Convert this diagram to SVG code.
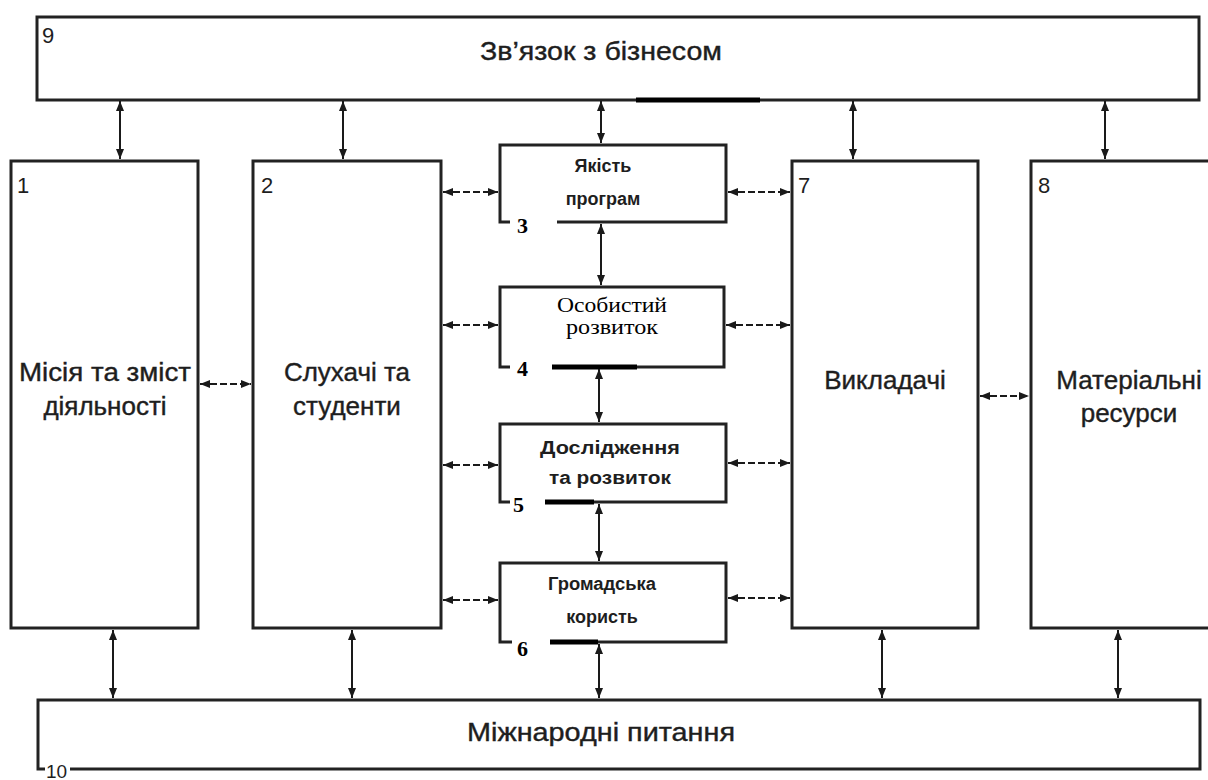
<svg xmlns="http://www.w3.org/2000/svg" width="1208" height="780" viewBox="0 0 1208 780">
<defs>
<marker id="ah" viewBox="0 0 10 8" refX="10" refY="4" markerWidth="10" markerHeight="8" markerUnits="userSpaceOnUse" orient="auto-start-reverse">
<path d="M0,0 L10,4 L0,8 Z" fill="#1a1a1a"/>
</marker>
<style>
.box{fill:#fff;stroke:#222;stroke-width:3}
.edge{fill:none;stroke:#222;stroke-width:3}
.thick{fill:none;stroke:#000;stroke-width:5}
.t{font-family:"Liberation Sans",Arial,sans-serif;fill:#1e1e1e;text-anchor:middle}
.big{font-size:26px;stroke:#1e1e1e;stroke-width:0.4}
.mid{font-size:18px;font-weight:bold}
.num{font-family:"Liberation Sans",Arial,sans-serif;fill:#1e1e1e;font-size:22px}
.snum{font-family:"Liberation Serif","Times New Roman",serif;fill:#000;font-size:22px;font-weight:bold}
.ser{font-family:"Liberation Serif","Times New Roman",serif;fill:#000;font-size:20px;text-anchor:middle}
.v{stroke:#1a1a1a;stroke-width:2;fill:none;marker-start:url(#ah);marker-end:url(#ah)}
.h{stroke:#1a1a1a;stroke-width:2;fill:none;stroke-dasharray:7 3;marker-start:url(#ah);marker-end:url(#ah)}
</style>
</defs>
<rect width="1208" height="780" fill="#fff"/>

<g id="n9">
<rect class="box" x="37" y="17" width="1162" height="83"/>
<line class="thick" x1="636" y1="100" x2="760" y2="100"/>
<text class="num" x="42" y="43">9</text>
<text class="t big" x="601" y="60" textLength="242" lengthAdjust="spacingAndGlyphs">Зв’язок з бізнесом</text>
</g>

<g id="n1">
<rect class="box" x="11" y="161" width="187" height="467"/>
<text class="num" x="17" y="193">1</text>
<text class="t big" x="105" y="381" textLength="172" lengthAdjust="spacingAndGlyphs">Місія та зміст</text>
<text class="t big" x="105" y="415">діяльності</text>
</g>

<g id="n2">
<rect class="box" x="253" y="161" width="188" height="467"/>
<text class="num" x="261" y="193">2</text>
<text class="t big" x="347" y="381">Слухачі та</text>
<text class="t big" x="347" y="415">студенти</text>
</g>

<g id="n3">
<path class="edge" d="M510,222 L500,222 L500,145 L726,145 L726,222 L557,222"/>
<text class="snum" x="517" y="233">3</text>
<text class="t mid" x="603" y="172">Якість</text>
<text class="t mid" x="603" y="205">програм</text>
</g>

<g id="n4">
<path class="edge" d="M510,367 L500,367 L500,287 L724,287 L724,367 L556,367"/>
<line class="thick" x1="552" y1="367" x2="637" y2="367"/>
<text class="snum" x="517" y="376">4</text>
<text class="ser" x="612" y="312" textLength="110" lengthAdjust="spacingAndGlyphs">Особистий</text>
<text class="ser" x="612" y="334" textLength="92" lengthAdjust="spacingAndGlyphs">розвиток</text>
</g>

<g id="n5">
<path class="edge" d="M510,502 L500,502 L500,424 L726,424 L726,502 L547,502"/>
<line class="thick" x1="545" y1="502" x2="594" y2="502"/>
<text class="snum" x="513" y="512">5</text>
<text class="t mid" x="610" y="454" textLength="140" lengthAdjust="spacingAndGlyphs">Дослідження</text>
<text class="t mid" x="610" y="484" textLength="122" lengthAdjust="spacingAndGlyphs">та розвиток</text>
</g>

<g id="n6">
<path class="edge" d="M512,642 L500,642 L500,563 L726,563 L726,642 L550,642"/>
<line class="thick" x1="550" y1="642" x2="598" y2="642"/>
<text class="snum" x="517" y="656">6</text>
<text class="t mid" x="602" y="590" textLength="108" lengthAdjust="spacingAndGlyphs">Громадська</text>
<text class="t mid" x="602" y="623">користь</text>
</g>

<g id="n7">
<rect class="box" x="792" y="161" width="186" height="467"/>
<text class="num" x="798" y="193">7</text>
<text class="t big" x="885" y="389">Викладачі</text>
</g>

<g id="n8">
<rect class="box" x="1031" y="161" width="190" height="467"/>
<text class="num" x="1038" y="193">8</text>
<text class="t big" x="1129" y="389">Матеріальні</text>
<text class="t big" x="1129" y="422">ресурси</text>
</g>

<g id="n10">
<path class="edge" d="M45,769 L38,769 L38,700 L1200,700 L1200,769 L70,769"/>
<text class="num" x="46" y="778" style="font-size:19px">10</text>
<text class="t big" x="601" y="741" textLength="268" lengthAdjust="spacingAndGlyphs">Міжнародні питання</text>
</g>

<g id="connectors">
<line class="v" x1="120" y1="101" x2="120" y2="159"/>
<line class="v" x1="343" y1="101" x2="343" y2="159"/>
<line class="v" x1="601" y1="101" x2="601" y2="143"/>
<line class="v" x1="853" y1="101" x2="853" y2="159"/>
<line class="v" x1="1105" y1="101" x2="1105" y2="159"/>

<line class="v" x1="601" y1="224" x2="601" y2="285"/>
<line class="v" x1="599" y1="369" x2="599" y2="422"/>
<line class="v" x1="599" y1="504" x2="599" y2="561"/>

<line class="v" x1="113" y1="630" x2="113" y2="698"/>
<line class="v" x1="352" y1="630" x2="352" y2="698"/>
<line class="v" x1="599" y1="644" x2="599" y2="698"/>
<line class="v" x1="882" y1="630" x2="882" y2="698"/>
<line class="v" x1="1118" y1="630" x2="1118" y2="698"/>

<line class="h" x1="200" y1="384" x2="251" y2="384"/>
<line class="h" x1="443" y1="192" x2="498" y2="192"/>
<line class="h" x1="443" y1="325" x2="498" y2="325"/>
<line class="h" x1="443" y1="465" x2="498" y2="465"/>
<line class="h" x1="443" y1="600" x2="498" y2="600"/>
<line class="h" x1="728" y1="192" x2="790" y2="192"/>
<line class="h" x1="726" y1="325" x2="790" y2="325"/>
<line class="h" x1="728" y1="463" x2="790" y2="463"/>
<line class="h" x1="728" y1="598" x2="790" y2="598"/>
<line class="h" x1="980" y1="396" x2="1029" y2="396"/>
</g>
</svg>
